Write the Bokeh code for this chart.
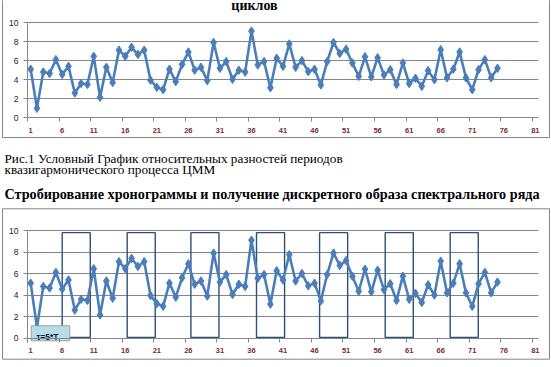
from bokeh.plotting import figure
from bokeh.models import Range1d, LinearAxis, FixedTicker, Grid, ColumnDataSource
from bokeh.core.properties import value
from bokeh.embed import file_html
from bokeh.resources import INLINE

# ---- data ----
categories = list(range(1, 76))
values = [5.1, 1.0, 4.8, 4.65, 6.1, 4.55, 5.4, 2.6, 3.6, 3.5,
          6.45, 2.15, 5.3, 3.7, 7.1, 6.45, 7.4, 6.65, 7.1, 3.95,
          3.2, 2.95, 5.1, 3.8, 5.6, 6.9, 5.0, 5.3, 3.9, 7.9,
          5.2, 5.9, 4.05, 5.0, 4.8, 9.1, 5.55, 5.9, 3.15, 6.25,
          5.4, 7.75, 5.3, 6.0, 4.85, 5.1, 3.45, 5.9, 7.9, 6.75,
          7.2, 5.75, 4.35, 6.4, 4.3, 6.3, 4.5, 5.05, 3.5, 5.75,
          3.6, 4.15, 3.3, 4.95, 4.0, 7.15, 4.2, 5.1, 6.9, 4.2,
          2.95, 5.05, 6.1, 4.2, 5.2]
x_tick_labels = [1, 6, 11, 16, 21, 26, 31, 36, 41, 46, 51, 56, 61, 66, 71, 76, 81]
x_tick_marks = [0.5 + 5 * i for i in range(17)]
y_ticks = [0, 2, 4, 6, 8, 10]
grid_ticks = [2, 4, 6, 8, 10]
strobe_left = [6.0, 16.3, 26.4, 36.8, 46.8, 57.2, 67.5]
strobe_width = 4.45
strobe_bottom = 0.05
strobe_top = 9.8

title_top = "циклов"
caption1 = "Рис.1 Условный График относительных разностей периодов"
caption2 = "квазигармонического процесса ЦММ"
heading = "Стробирование хронограммы и получение дискретного образа спектрального ряда"
tau_label = "τ=5*T"

W, H = 551, 367
LINE = "#4a7ebb"
AX = "#868686"
LBL = "#7b2c2c"

# pixel geometry (page coordinates)
px_per_cat = 511 / 81.0
x_start = 0.5 - 27 / px_per_cat
x_end = 81.5 + 13 / px_per_cat
s1 = (117.3 - 22.0) / 10.0
y1_start = -(H - 117.3) / s1
y1_end = 10 + 22.0 / s1
s2 = (337.5 - 230.0) / 10.0
y2_start = -(H - 337.5) / s2
y2_end = 10 + 230.0 / s2

p = figure(width=W, height=H, output_backend="svg", toolbar_location=None,
           x_range=Range1d(x_start, x_end), y_range=Range1d(y1_start, y1_end),
           x_axis_type=None, y_axis_type=None, min_border=0,
           outline_line_color=None, background_fill_color="white",
           border_fill_color="white")
p.extra_x_ranges = {"px": Range1d(0, W)}
p.extra_y_ranges = {"py": Range1d(H, 0), "y2": Range1d(y2_start, y2_end)}

# chart boxes
p.quad(left=[2, 2], right=[549, 549], top=[-20, 208.3], bottom=[137, 358.7],
       x_range_name="px", y_range_name="py", fill_color=None,
       line_color=AX, line_width=1)


def add_grid(rname):
    kw = dict(dimension=1, ticker=FixedTicker(ticks=grid_ticks),
              grid_line_color=AX, grid_line_width=1)
    if rname:
        kw["y_range_name"] = rname
    try:
        g = Grid(cross_bounds=(0.5, 81.5), **kw)
    except Exception:
        g = Grid(**kw)
    p.add_layout(g)


def add_axes(rname):
    kw = {}
    if rname:
        kw["y_range_name"] = rname
    ya = LinearAxis(ticker=FixedTicker(ticks=y_ticks), fixed_location=0.5,
                    bounds=(0, 10), axis_line_color=AX, major_tick_line_color=AX,
                    major_tick_in=0, major_tick_out=4, minor_tick_line_color=None,
                    major_label_text_font="Liberation Sans",
                    major_label_text_font_size="8.5px",
                    major_label_text_color="#222222",
                    major_label_standoff=5, **kw)
    p.add_layout(ya, "left")
    xa = LinearAxis(ticker=FixedTicker(ticks=x_tick_labels, minor_ticks=x_tick_marks),
                    fixed_location=0, bounds=(0.5, 81.5), axis_line_color=AX,
                    major_tick_line_color=None, major_tick_in=0, major_tick_out=0,
                    minor_tick_line_color=AX, minor_tick_in=0, minor_tick_out=4,
                    major_label_text_font="Liberation Sans",
                    major_label_text_font_size="7.5px",
                    major_label_text_font_style="bold",
                    major_label_text_color=LBL,
                    major_label_standoff=6, **kw)
    p.add_layout(xa, "below")


add_grid(None)
add_grid("y2")

# strobe rectangles (chart 2)
p.quad(left=strobe_left, right=[l + strobe_width for l in strobe_left],
       bottom=strobe_bottom, top=strobe_top, y_range_name="y2",
       fill_color=None, line_color="#2f4f7a", line_width=1.4)

src = ColumnDataSource(dict(x=categories, y=values))
for rn in (None, "y2"):
    kw = {"y_range_name": rn} if rn else {}
    p.line("x", "y", source=src, line_color=LINE, line_width=2.6, **kw)
    p.scatter("x", "y", source=src, marker="diamond", size=8.5,
              fill_color=LINE, line_color=LINE, **kw)

add_axes(None)
add_axes("y2")

# tau callout box
p.quad(left=[30.7], right=[69.3], top=[325.3], bottom=[340.3],
       x_range_name="px", y_range_name="py", fill_color="#b7dde8",
       line_color="#a0a0a0", line_width=1)
p.text(x=[36], y=[336.3], text=[tau_label], x_range_name="px", y_range_name="py",
       text_font=value("Liberation Sans"), text_font_size="8.5px",
       text_font_style="bold", text_color="#1a1a3a", text_baseline="alphabetic")

# texts
p.text(x=[254], y=[4.8], text=[title_top], x_range_name="px", y_range_name="py",
       text_font=value("Liberation Serif"), text_font_size="14px",
       text_font_style="bold", text_align="center", text_baseline="alphabetic",
       text_color="black")
p.text(x=[4, 4], y=[158.3, 169.2], text=[caption1, caption2],
       x_range_name="px", y_range_name="py",
       text_font=value("Liberation Serif"), text_font_size="13.2px",
       text_baseline="alphabetic", text_color="black")
p.text(x=[4], y=[193.0], text=[heading], x_range_name="px", y_range_name="py",
       text_font=value("Liberation Serif"), text_font_size="14.2px",
       text_font_style="bold", text_baseline="alphabetic", text_color="black")

open("out.html", "w").write(file_html(p, INLINE))
